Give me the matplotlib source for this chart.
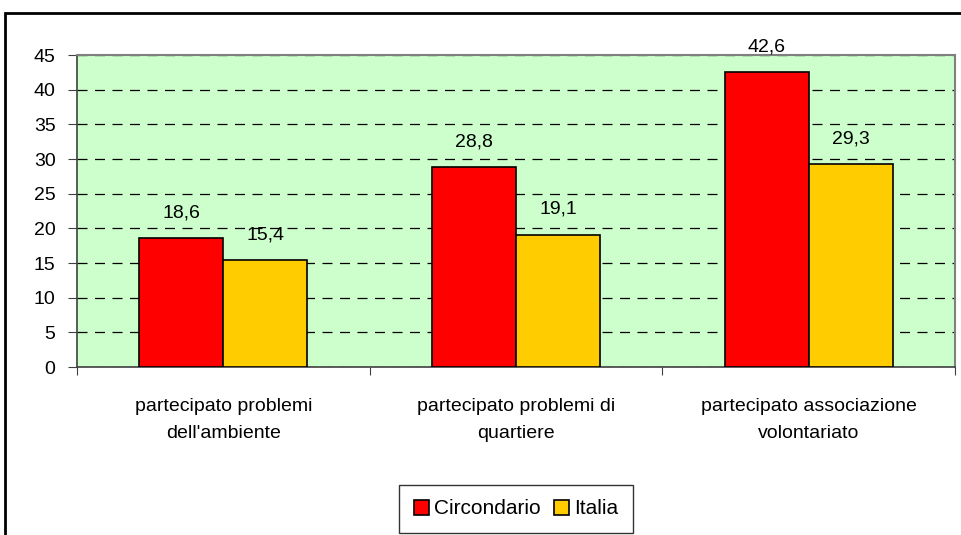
import numpy as np
import matplotlib
matplotlib.use('Agg')
import matplotlib.pyplot as plt
from matplotlib.patches import Rectangle

# Data
categories = ["partecipato problemi\ndell'ambiente",
              "partecipato problemi di\nquartiere",
              "partecipato associazione\nvolontariato"]
circondario = [18.6, 28.8, 42.6]
italia = [15.4, 19.1, 29.3]
series_names = ['Circondario', 'Italia']
yticks = [0, 5, 10, 15, 20, 25, 30, 35, 40, 45]

plt.rcParams['font.family'] = ['Liberation Sans', 'DejaVu Sans']
plt.rcParams['font.size'] = 14

W, H = 961, 535
fig = plt.figure(figsize=(W / 100, H / 100), dpi=100)

# outer chart frame (cut off at right and bottom)
fig.patches.append(Rectangle((5 / W, -0.05), 1.1, 1 - 13 / H + 0.05,
                             transform=fig.transFigure, fill=False,
                             edgecolor='black', linewidth=2))

ax = fig.add_axes([77 / W, 1 - 367 / H, (955 - 77) / W, (367 - 55) / H])
ax.set_facecolor('#ccffcc')

x = np.arange(len(categories))
bw = 0.287
b1 = ax.bar(x - bw / 2, circondario, bw, color='#ff0000', edgecolor='black',
            linewidth=1.2, label=series_names[0], zorder=3)
b2 = ax.bar(x + bw / 2, italia, bw, color='#ffcc00', edgecolor='black',
            linewidth=1.2, label=series_names[1], zorder=3)

for bars, vals in ((b1, circondario), (b2, italia)):
    for rect, v in zip(bars, vals):
        ax.text(rect.get_x() + rect.get_width() / 2, v + 2.4,
                ('%.1f' % v).replace('.', ','), ha='center', va='bottom',
                fontsize=14, zorder=4)

ax.set_xlim(-0.5, len(categories) - 0.5)
ax.set_ylim(0, 45)
ax.set_yticks(yticks)
ax.yaxis.grid(True, color='black', linestyle=(0, (8, 6)), linewidth=0.9)
ax.set_axisbelow(True)

# category ticks sit between groups
ax.set_xticks(np.arange(len(categories) + 1) - 0.5)
ax.set_xticklabels([])
ax.set_xticks(x, minor=True)
ax.set_xticklabels(categories, minor=True, linespacing=1.8)
ax.tick_params(axis='x', which='minor', length=0, pad=22)
ax.tick_params(axis='x', which='major', length=6, color='#404040')
ax.tick_params(axis='y', length=6.5, color='#404040', pad=9)

for s in ('top', 'right'):
    ax.spines[s].set_color('#808080')
    ax.spines[s].set_linewidth(1.5)
ax.spines['left'].set_color('#404040')
ax.spines['bottom'].set_color('#404040')
ax.spines['left'].set_linewidth(1.2)
ax.spines['bottom'].set_linewidth(1.2)

leg = fig.legend(loc='center', bbox_to_anchor=(516 / W, 1 - 509 / H),
                 ncol=2, frameon=True, fancybox=False, edgecolor='black',
                 handlelength=0.75, handleheight=0.75, handletextpad=0.25,
                 columnspacing=0.6, borderpad=0.7, borderaxespad=0,
                 fontsize=15)
leg.get_frame().set_linewidth(1.0)

fig.savefig('out.png', dpi=100)
